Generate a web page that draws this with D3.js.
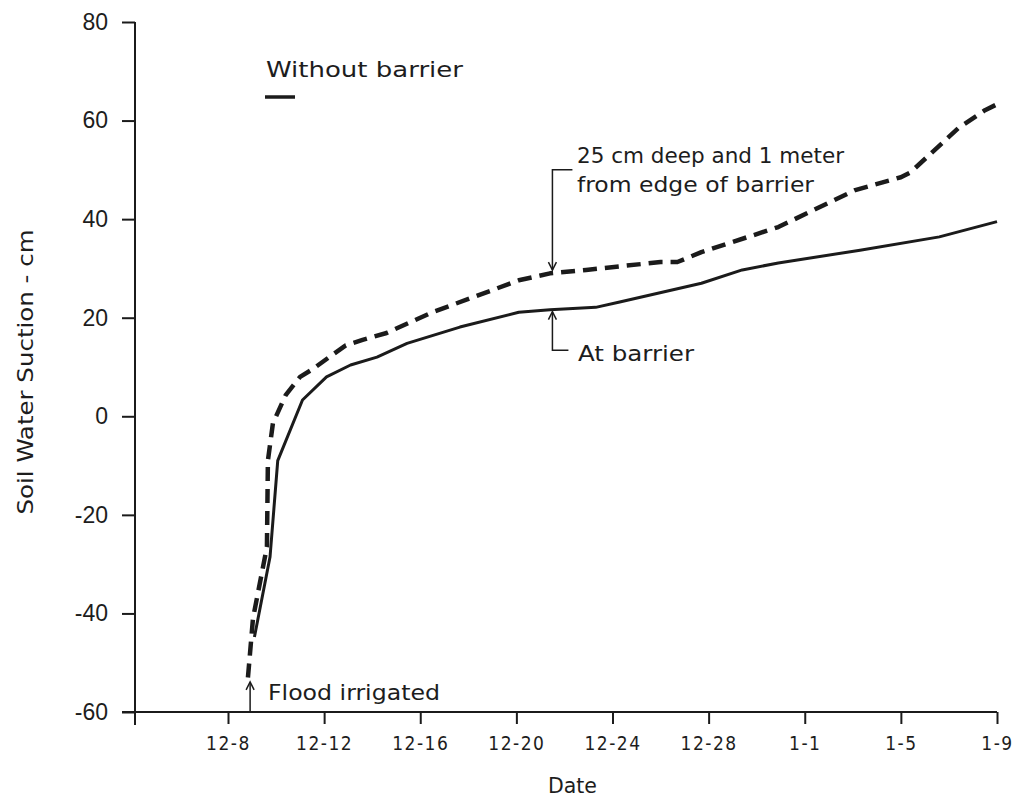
<!DOCTYPE html>
<html>
<head>
<meta charset="utf-8">
<script src="https://cdn.jsdelivr.net/npm/d3@7"></script>
<style>
  body { margin: 0; background: #fff; }
  text { fill: #1d1d1d; }
</style>
</head>
<body>
<div id="chart"></div>
<script>
// x values are days counted from Dec 8 (12-8 = day 0)
const tickDays = [0, 4, 8, 12, 16, 20, 24, 28, 32];
const tickLabels = ["12-8", "12-12", "12-16", "12-20", "12-24", "12-28", "1-1", "1-5", "1-9"];
const suctionTicks = [-60, -40, -20, 0, 20, 40, 60, 80];

// At barrier (solid)
const atBarrierDays = [1.1, 1.75, 2.07, 3.1, 4.1, 5.1, 6.2, 7.45, 9.65, 12.1, 13.4, 15.3, 16.3, 19.7, 21.4, 22.9, 26.3, 29.6, 32.0];
const atBarrierSuction = [-44.8, -28.5, -9, 3.3, 8.0, 10.4, 12, 14.8, 18.1, 21.1, 21.6, 22.1, 23.2, 27, 29.7, 31.1, 33.7, 36.4, 39.5];

// 25 cm deep and 1 meter from edge of barrier (dashed)
const edgeDays = [0.83, 1.04, 1.62, 1.66, 1.87, 2.4, 3.0, 3.5, 4.9, 5.6, 6.6, 8.5, 11.0, 12.1, 13.4, 14.9, 18.0, 18.7, 19.7, 22.9, 26.1, 28.0, 28.4, 30.4, 31.5, 32.0];
const edgeSuction = [-53, -41, -26.5, -9, -1.4, 4.3, 8, 9.5, 14.4, 15.5, 16.9, 21.1, 25.6, 27.6, 29, 29.7, 31.3, 31.3, 33.3, 38.4, 45.9, 48.5, 49.5, 58.5, 62.1, 63.3];

const floodDay = 0.92;      // flood irrigation arrow
const labelDay = 13.5;      // where the two callout arrows point

const W = 1019, H = 799;
const margin = { top: 22, left: 135 };
const width = 862, height = 690;
const ink = "#1b1b1b";
const letterFont = "'DejaVu Sans Condensed', 'Liberation Sans Narrow', 'DejaVu Sans', sans-serif";

const svg = d3.select("#chart").append("svg")
    .attr("width", W).attr("height", H);

const g = svg.append("g")
    .attr("transform", `translate(${margin.left},${margin.top})`);

const x = d3.scaleLinear().domain([-3.87, 32]).range([0, width]);
const y = d3.scaleLinear().domain([-60, 80]).range([height, 0]);

// axis lines (y axis runs a bit below the x axis, x axis starts at the -60 tick)
g.append("line")
    .attr("x1", 0).attr("x2", 0)
    .attr("y1", y(80)).attr("y2", y(-60) + 13)
    .attr("stroke", ink).attr("stroke-width", 2);
g.append("line")
    .attr("x1", -13).attr("x2", x(32))
    .attr("y1", y(-60)).attr("y2", y(-60))
    .attr("stroke", ink).attr("stroke-width", 2);

// y axis
const yAxis = g.append("g")
    .call(d3.axisLeft(y).tickValues(suctionTicks).tickSize(13).tickPadding(14)
        .tickFormat(d => String(d)));
yAxis.select(".domain").remove();
yAxis.selectAll("line").attr("stroke", ink).attr("stroke-width", 2);
yAxis.selectAll("text")
    .attr("fill", ink)
    .style("font-family", "'Liberation Sans', Arial, sans-serif")
    .style("font-size", "23px");

// x axis
const xAxis = g.append("g")
    .attr("transform", `translate(0,${height})`)
    .call(d3.axisBottom(x).tickValues(tickDays).tickSize(12).tickPadding(13)
        .tickFormat((d, i) => tickLabels[i]));
xAxis.select(".domain").remove();
xAxis.selectAll("line").attr("stroke", ink).attr("stroke-width", 2);
xAxis.selectAll("text")
    .attr("fill", ink)
    .style("font-family", letterFont)
    .style("font-size", "19px")
    .style("letter-spacing", "1.5px");

// axis titles
svg.append("text")
    .attr("transform", `translate(33,${372}) rotate(-90)`)
    .attr("text-anchor", "middle")
    .attr("textLength", 285).attr("lengthAdjust", "spacingAndGlyphs")
    .style("font-family", letterFont).style("font-size", "21px")
    .text("Soil Water Suction - cm");

svg.append("text")
    .attr("x", 548).attr("y", 793)
    .attr("textLength", 49).attr("lengthAdjust", "spacingAndGlyphs")
    .style("font-family", letterFont).style("font-size", "21px")
    .text("Date");

// series
const line = d3.line()
    .x(d => x(d[0]))
    .y(d => y(d[1]));

g.append("path")
    .datum(d3.zip(atBarrierDays, atBarrierSuction))
    .attr("d", line)
    .attr("fill", "none")
    .attr("stroke", ink)
    .attr("stroke-width", 3)
    .attr("stroke-linejoin", "round");

g.append("path")
    .datum(d3.zip(edgeDays, edgeSuction))
    .attr("d", line)
    .attr("fill", "none")
    .attr("stroke", ink)
    .attr("stroke-width", 4.5)
    .attr("stroke-dasharray", "14,8")
    .attr("stroke-linejoin", "round");

// piecewise interpolators to place callout arrows on the curves
const atBarrierAt = d3.scaleLinear().domain(atBarrierDays).range(atBarrierSuction);
const edgeAt = d3.scaleLinear().domain(edgeDays).range(edgeSuction);

function arrowHead(px, py, dir) {
    // dir = -1 points up, 1 points down
    g.append("path")
        .attr("d", `M${px - 4},${py - dir * 8} L${px},${py} L${px + 4},${py - dir * 8}`)
        .attr("fill", "none").attr("stroke", ink).attr("stroke-width", 1.5);
}

// upper callout: bracket pointing down to the dashed curve
const ax = x(labelDay);
const topTip = y(edgeAt(labelDay)) - 3;
g.append("path")
    .attr("d", `M${ax + 20},${y(50)} L${ax},${y(50)} L${ax},${topTip}`)
    .attr("fill", "none").attr("stroke", ink).attr("stroke-width", 1.5);
arrowHead(ax, topTip, 1);

svg.append("text")
    .attr("x", 577).attr("y", 163)
    .attr("textLength", 267).attr("lengthAdjust", "spacingAndGlyphs")
    .style("font-family", letterFont).style("font-size", "21px")
    .text("25 cm deep and 1 meter");
svg.append("text")
    .attr("x", 577).attr("y", 192)
    .attr("textLength", 237).attr("lengthAdjust", "spacingAndGlyphs")
    .style("font-family", letterFont).style("font-size", "21px")
    .text("from edge of barrier");

// lower callout: bracket pointing up to the solid curve
const lowTip = y(atBarrierAt(labelDay)) + 2;
g.append("path")
    .attr("d", `M${ax},${lowTip} L${ax},${y(13.4)} L${ax + 16},${y(13.4)}`)
    .attr("fill", "none").attr("stroke", ink).attr("stroke-width", 1.5);
arrowHead(ax, lowTip, -1);

svg.append("text")
    .attr("x", 578).attr("y", 361)
    .attr("textLength", 116).attr("lengthAdjust", "spacingAndGlyphs")
    .style("font-family", letterFont).style("font-size", "21px")
    .text("At barrier");

// flood irrigation arrow
const fx = x(floodDay);
g.append("line")
    .attr("x1", fx).attr("x2", fx)
    .attr("y1", y(-60)).attr("y2", y(-53.9))
    .attr("stroke", ink).attr("stroke-width", 1.5);
arrowHead(fx, y(-53.9), -1);

svg.append("text")
    .attr("x", 268).attr("y", 700)
    .attr("textLength", 172).attr("lengthAdjust", "spacingAndGlyphs")
    .style("font-family", letterFont).style("font-size", "21px")
    .text("Flood irrigated");

// legend fragment
svg.append("text")
    .attr("x", 266).attr("y", 77)
    .attr("textLength", 197).attr("lengthAdjust", "spacingAndGlyphs")
    .style("font-family", letterFont).style("font-size", "21px")
    .text("Without barrier");
svg.append("line")
    .attr("x1", 265).attr("x2", 295)
    .attr("y1", 97).attr("y2", 97)
    .attr("stroke", ink).attr("stroke-width", 3.5);
</script>
</body>
</html>
